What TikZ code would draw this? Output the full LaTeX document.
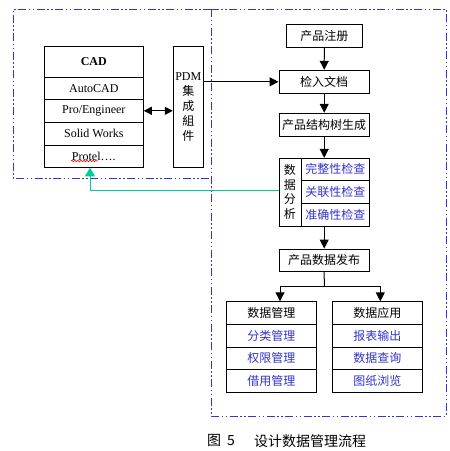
\documentclass[tikz,border=0pt]{standalone}
\usepackage{fontspec}
\setmainfont{Liberation Serif}
\newfontfamily\cjk{Noto Sans CJK SC}
\usetikzlibrary{arrows.meta,decorations.pathmorphing}
\definecolor{frameblue}{RGB}{51,51,214}
\definecolor{txtblue}{RGB}{51,51,204}
\definecolor{tealgreen}{RGB}{0,204,153}
\begin{document}
\begin{tikzpicture}[x=1pt,y=-1pt,
  box/.style={draw,line width=1pt,inner sep=0pt,font=\cjk\fontsize{12}{14}\selectfont},
  lat/.style={box,font=\fontsize{12}{14}\selectfont},
  sub/.style={box,text=txtblue},
  frame/.style={draw=frameblue,line width=0.9pt,dash pattern=on 8pt off 2.5pt on 1.5pt off 2.5pt on 1.5pt off 2.5pt},
  arr/.style={line width=1pt,-{Triangle[width=9pt,length=9pt]}},
  darr/.style={line width=1pt,{Triangle[width=8pt,length=8pt]}-{Triangle[width=8pt,length=8pt]}},
  garr/.style={draw=tealgreen,line width=1pt,-{Triangle[width=10pt,length=8.5pt]}}
]
\useasboundingbox (0,0) rectangle (450,451);
\fill[white] (0,0) rectangle (450,451);
% frames
\draw[frame] (211,9) -- (13,9) -- (13,178) -- (211,178);
\draw[frame] (211,9) rectangle (446,416);
% CAD stack
\node[lat,minimum width=99pt,minimum height=31pt,font=\bfseries\fontsize{12}{14}\selectfont] (cad0) at (93.8,61.8) {CAD};
\node[lat,minimum width=99pt,minimum height=22pt] (cad1) at (93.8,88.3) {AutoCAD};
\node[lat,minimum width=99pt,minimum height=23pt] (cad2) at (93.8,110.8) {Pro/Engineer};
\node[lat,minimum width=99pt,minimum height=23pt] (cad3) at (93.8,133.8) {Solid Works};
\node[lat,minimum width=99pt,minimum height=22pt] (cad4) at (93.8,156.3) {Protel….};
\draw[red,line width=0.6pt,decorate,decoration={snake,amplitude=0.8pt,segment length=3pt}] (71,161) -- (98,161);
% PDM
\node[box,minimum width=30pt,minimum height=121pt] (pdm) at (188.3,106.8) {};
\node[inner sep=0pt,align=center,font=\cjk\fontsize{12}{15}\selectfont] (pdmt) at (188.3,107.5) {{\rmfamily PDM}\\集\\成\\組\\件};
% right flow
\node[box,minimum width=76pt,minimum height=23pt] (reg) at (324.3,35.8) {产品注册};
\node[box,minimum width=90.3pt,minimum height=23pt] (chk) at (324.2,81.8) {检入文档};
\node[box,minimum width=90.3pt,minimum height=23pt] (tree) at (324.2,124.8) {产品结构树生成};
\node[box,minimum width=22.3pt,minimum height=68pt] (ana) at (290.2,192.3) {};
\node[inner sep=0pt,align=center,font=\cjk\fontsize{12}{14.5}\selectfont] (anat) at (289.8,192) {数\\据\\分\\析};
\node[sub,minimum width=68pt,minimum height=21.7pt] (a1) at (335.3,169.2) {完整性检查};
\node[sub,minimum width=68pt,minimum height=23.3pt] (a2) at (335.3,191.7) {关联性检查};
\node[sub,minimum width=68pt,minimum height=23pt] (a3) at (335.3,214.8) {准确性检查};
\node[box,minimum width=90.3pt,minimum height=22.3pt] (pub) at (324.2,260.2) {产品数据发布};
% bottom groups
\node[box,minimum width=90pt,minimum height=23pt] (dm0) at (271.3,312.8) {数据管理};
\node[sub,minimum width=90pt,minimum height=23pt] (dm1) at (271.3,335.8) {分类管理};
\node[sub,minimum width=90pt,minimum height=22pt] (dm2) at (271.3,358.3) {权限管理};
\node[sub,minimum width=90pt,minimum height=23pt] (dm3) at (271.3,380.8) {借用管理};
\node[box,minimum width=90pt,minimum height=23pt] (da0) at (377.3,312.8) {数据应用};
\node[sub,minimum width=90pt,minimum height=23pt] (da1) at (377.3,335.8) {报表输出};
\node[sub,minimum width=90pt,minimum height=22pt] (da2) at (377.3,358.3) {数据查询};
\node[sub,minimum width=90pt,minimum height=23pt] (da3) at (377.3,380.8) {图纸浏览};
% connectors
\draw[darr] (cad2.east) -- (pdm.west |- cad2.east);
\draw[arr] (pdm.east |- chk.west) -- (chk.west);
\draw[arr] (reg.south) -- (chk.north);
\draw[arr] (chk.south) -- (tree.north);
\draw[arr] (tree.south) -- (tree.south |- a1.north);
\draw[arr] (tree.south |- a3.south) -- (pub.north);
\coordinate (j) at (324.3,286);
\coordinate (la) at (280,301.3);
\coordinate (ra) at (380.3,301.3);
\draw[line width=1pt] (pub.south) -- (j);
\draw[arr] (j) -| (la);
\draw[arr] (j) -| (ra);
\coordinate (gc) at (90,190);
\draw[garr] (ana.west |- gc) -- (gc) -- (gc |- cad4.south);
% caption
\node[anchor=west,inner sep=0pt,font=\cjk\fontsize{14}{16}\selectfont] (c1) at (207,440.7) {图};
\node[anchor=west,inner sep=0pt,font=\cjk\fontsize{14}{16}\selectfont] (c2) at (227,440.7) {5};
\node[anchor=west,inner sep=0pt,font=\cjk\fontsize{14}{16}\selectfont] (c3) at (254,440.7) {设计数据管理流程};
\end{tikzpicture}
\end{document}
